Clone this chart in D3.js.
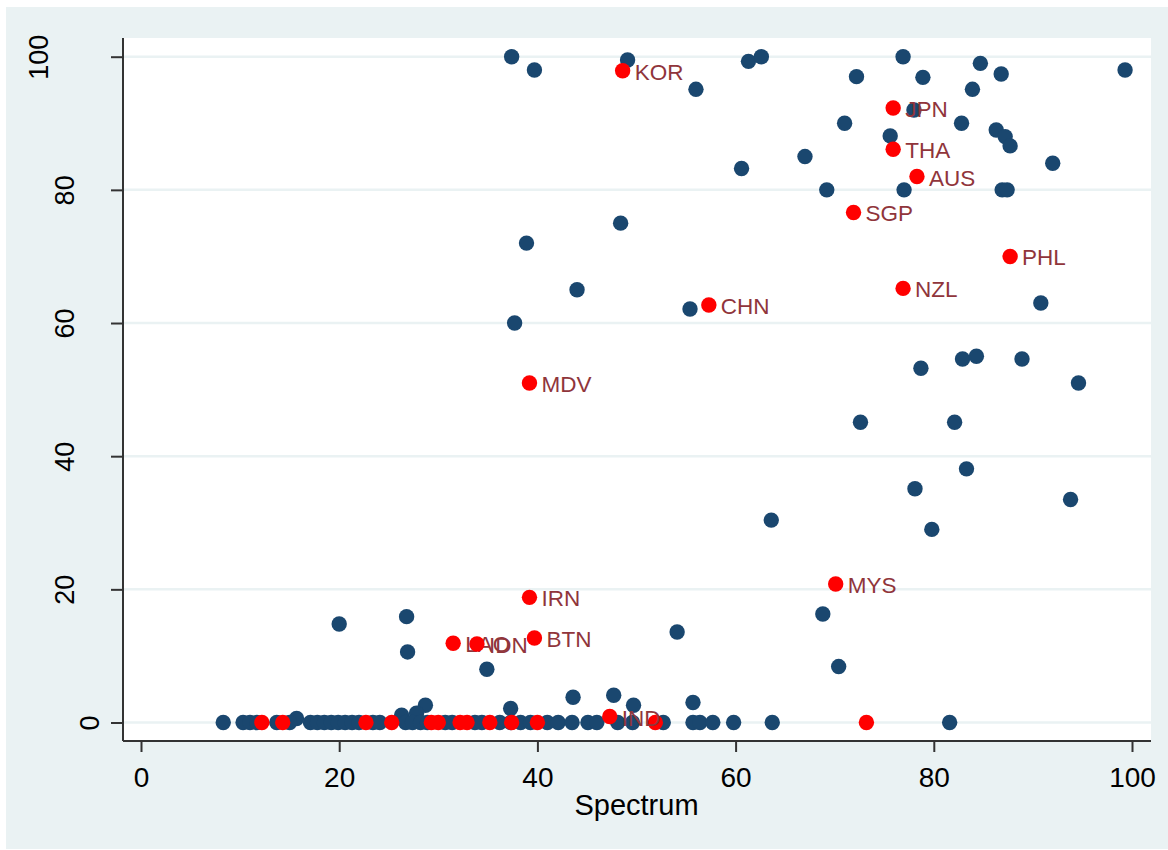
<!DOCTYPE html>
<html>
<head>
<meta charset="utf-8">
<script src="https://cdn.jsdelivr.net/npm/d3@7"></script>
<style>
  html, body { margin: 0; padding: 0; background: #ffffff; }
  svg { display: block; font-family: "Liberation Sans", Arial, Helvetica, sans-serif; }
</style>
</head>
<body>
<svg id="chart" width="1168" height="850"></svg>
<script>
// Countries outside the highlighted group
const otherX = [
  37.4, 39.7, 49.1, 56.0, 61.3, 62.6, 67.0, 60.6,
  76.9, 72.2, 78.9, 84.7, 86.8, 83.9, 99.3, 78.0, 71.0, 82.8, 75.6, 86.3, 87.2, 87.7, 92.0,
  69.2, 77.0, 86.9, 87.4,
  38.9, 48.4, 44.0, 37.7, 55.4, 90.8, 82.9, 84.3, 88.9, 78.7, 94.6, 72.6, 82.1, 83.3, 78.1, 93.8, 79.8, 63.6,
  68.8, 70.4, 54.1, 20.0, 26.8, 26.9, 34.9,
  28.7, 37.3, 26.3, 27.8, 15.7, 43.6, 47.7, 49.7, 55.7,
  8.3, 10.3, 11.0, 11.7, 13.7, 15.0, 17.1, 17.8, 18.5, 19.2, 19.9, 20.6, 21.3, 22.0, 23.4, 24.1,
  26.7, 27.4, 28.2, 28.9, 30.7, 31.4, 33.7, 34.4, 36.2, 37.3, 38.3, 39.3, 41.0, 42.1, 43.5, 45.1,
  46.0, 48.1, 49.6, 52.7, 55.7, 56.4, 57.7, 59.8, 63.7, 81.6
];
const otherY = [
  100, 98.0, 99.5, 95.1, 99.3, 100, 85.0, 83.2,
  100, 97.0, 96.9, 99.0, 97.4, 95.1, 98.0, 92.0, 90.0, 90.0, 88.1, 89.0, 88.0, 86.6, 84.0,
  80.0, 80.0, 80.0, 80.0,
  72.0, 75.0, 65.0, 60.0, 62.1, 63.0, 54.6, 55.0, 54.6, 53.2, 51.0, 45.1, 45.1, 38.1, 35.1, 33.5, 29.0, 30.4,
  16.3, 8.4, 13.6, 14.8, 15.9, 10.6, 8.0,
  2.6, 2.1, 1.1, 1.4, 0.6, 3.8, 4.1, 2.6, 3.0,
  0, 0, 0, 0, 0, 0, 0, 0, 0, 0, 0, 0, 0, 0, 0, 0,
  0, 0, 0, 0, 0, 0, 0, 0, 0, 0, 0, 0, 0, 0, 0, 0,
  0, 0, 0, 0, 0, 0, 0, 0, 0, 0
];

// Highlighted countries (labelled)
const focusCodes = ["KOR", "JPN", "THA", "AUS", "SGP", "PHL", "NZL", "CHN", "MDV", "MYS", "IRN", "BTN", "LAO", "IDN", "IND"];
const focusX = [48.6, 75.9, 75.9, 78.3, 71.9, 87.7, 76.9, 57.3, 39.2, 70.1, 39.2, 39.7, 31.5, 33.9, 47.3];
const focusY = [97.9, 92.3, 86.1, 82.0, 76.6, 70.0, 65.2, 62.7, 51.0, 20.8, 18.8, 12.7, 11.9, 11.8, 0.9];

// Highlighted countries sitting at zero (no label)
const focusZeroX = [12.2, 14.3, 22.7, 25.3, 29.3, 30.0, 32.2, 32.9, 35.2, 37.4, 40.0, 51.9, 73.2];
const focusZeroY = [0, 0, 0, 0, 0, 0, 0, 0, 0, 0, 0, 0, 0];

const xTicks = [0, 20, 40, 60, 80, 100];
const yTicks = [0, 20, 40, 60, 80, 100];
const xTitle = "Spectrum";

const svg = d3.select("#chart");
const W = 1168, H = 850;

// Outer background
svg.append("rect").attr("x", 0).attr("y", 0).attr("width", W).attr("height", H).attr("fill", "#ffffff");
svg.append("rect").attr("x", 6).attr("y", 7).attr("width", W - 6).attr("height", H - 8).attr("fill", "#eaf2f3");

// Plot region
const plot = { left: 123, right: 1151, top: 38, bottom: 741 };
svg.append("rect")
  .attr("x", plot.left).attr("y", plot.top)
  .attr("width", plot.right - plot.left).attr("height", plot.bottom - plot.top)
  .attr("fill", "#ffffff");

const x = d3.scaleLinear().domain([0, 100]).range([141, 1132]);
const y = d3.scaleLinear().domain([0, 100]).range([722.5, 56.7]);

// Horizontal gridlines
svg.append("g").selectAll("line").data(yTicks).join("line")
  .attr("x1", plot.left).attr("x2", plot.right)
  .attr("y1", d => y(d)).attr("y2", d => y(d))
  .attr("stroke", "#eaf2f3").attr("stroke-width", 2.5);

// Axes
const xAxis = d3.axisBottom(x).tickValues(xTicks).tickSize(11).tickPadding(0).tickFormat(d3.format("d"));
const gx = svg.append("g").attr("transform", `translate(0,${plot.bottom})`).call(xAxis);
gx.select(".domain").attr("d", `M${plot.left},0H${plot.right}`).attr("stroke", "#333").attr("stroke-width", 2);
gx.selectAll(".tick line").attr("stroke", "#333").attr("stroke-width", 2);
gx.selectAll(".tick text")
  .attr("y", 46).attr("dy", null)
  .attr("fill", "#000").attr("font-size", 28).attr("font-family", "Liberation Sans, Arial, sans-serif");

const yAxis = d3.axisLeft(y).tickValues(yTicks).tickSize(12).tickFormat(d3.format("d"));
const gy = svg.append("g").attr("transform", `translate(${plot.left},0)`).call(yAxis);
gy.select(".domain").attr("d", `M0,${plot.top}V${plot.bottom}`).attr("stroke", "#333").attr("stroke-width", 2);
gy.selectAll(".tick line").attr("stroke", "#333").attr("stroke-width", 2);
gy.selectAll(".tick text")
  .attr("x", null).attr("dy", null)
  .attr("text-anchor", "middle")
  .attr("transform", d => {
    const n = String(d).length;
    const bx = 99 - (n - 1) * 25.5 - plot.left;
    return `translate(${bx},0) rotate(-90)`;
  })
  .attr("fill", "#000").attr("font-size", 27).attr("font-family", "Liberation Sans, Arial, sans-serif");

// Axis title
svg.append("text")
  .attr("x", (x(0) + x(100)) / 2).attr("y", 815)
  .attr("text-anchor", "middle").attr("font-size", 29).attr("fill", "#000")
  .text(xTitle);

// Markers
const R = 7.7;
const others = otherX.map((v, i) => ({ x: v, y: otherY[i] }));
svg.append("g").selectAll("circle").data(others).join("circle")
  .attr("cx", d => x(d.x)).attr("cy", d => y(d.y)).attr("r", R)
  .attr("fill", "#1a476f");

const zeros = focusZeroX.map((v, i) => ({ x: v, y: focusZeroY[i] }));
svg.append("g").selectAll("circle").data(zeros).join("circle")
  .attr("cx", d => x(d.x)).attr("cy", d => y(d.y)).attr("r", R)
  .attr("fill", "#ff0000");

const focus = focusCodes.map((c, i) => ({ code: c, x: focusX[i], y: focusY[i] }));
svg.append("g").selectAll("text").data(focus).join("text")
  .attr("x", d => x(d.x) + 12).attr("y", d => y(d.y) + 9)
  .attr("font-size", 22.5).attr("fill", "#90353b")
  .text(d => d.code);
svg.append("g").selectAll("circle").data(focus).join("circle")
  .attr("cx", d => x(d.x)).attr("cy", d => y(d.y)).attr("r", R)
  .attr("fill", "#ff0000");
</script>
</body>
</html>
